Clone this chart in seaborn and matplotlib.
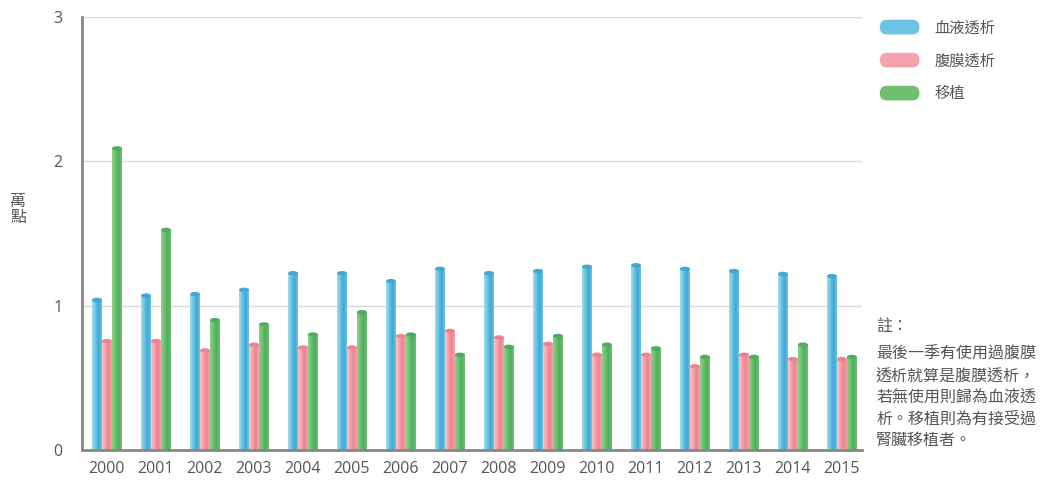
import numpy as np
import pandas as pd
import matplotlib
matplotlib.use("Agg")
import matplotlib.pyplot as plt
import seaborn as sns
from matplotlib.colors import LinearSegmentedColormap
from matplotlib.patches import Ellipse, FancyBboxPatch, Patch
from matplotlib.legend_handler import HandlerBase

# data (萬點)
years = [str(y) for y in range(2000, 2016)]
hemo = [1.04, 1.07, 1.08, 1.11, 1.225, 1.225, 1.17, 1.255, 1.225, 1.24, 1.27, 1.28, 1.255, 1.24, 1.22, 1.205]
peri = [0.755, 0.755, 0.69, 0.73, 0.71, 0.71, 0.79, 0.825, 0.78, 0.735, 0.66, 0.66, 0.58, 0.66, 0.63, 0.63]
trans = [2.09, 1.525, 0.90, 0.87, 0.80, 0.955, 0.80, 0.66, 0.715, 0.79, 0.73, 0.705, 0.645, 0.645, 0.73, 0.645]
series_names = ["血液透析", "腹膜透析", "移植"]

# light, mid, dark stops for the cylinder look
shades = {
    "血液透析": ("#a3dced", "#6cc4e3", "#3fa8d3"),
    "腹膜透析": ("#fbc6c6", "#f5a3ab", "#ee8293"),
    "移植": ("#8fd08a", "#6fc06f", "#4caf5f"),
}

df = pd.DataFrame({
    "year": years * 3,
    "value": hemo + peri + trans,
    "type": [n for n in series_names for _ in years],
})

sns.set_theme(style="white")
plt.rcParams["font.family"] = ["Open Sans", "Noto Sans CJK TC", "DejaVu Sans"]

fig = plt.figure(figsize=(10.44, 4.87), dpi=100)
ax = fig.add_axes([82 / 1044, 37 / 487, 780 / 1044, 433 / 487])

sns.barplot(data=df, x="year", y="value", hue="type", hue_order=series_names,
            palette=[shades[n][1] for n in series_names], width=0.61,
            legend=False, ax=ax, zorder=2)

# repaint each bar as a shaded cylinder
for cont, name in zip(ax.containers, series_names):
    light, mid, dark = shades[name]
    cmap = LinearSegmentedColormap.from_list(name, [light, mid, dark, mid])
    for bar in cont:
        x, w, h = bar.get_x(), bar.get_width(), bar.get_height()
        bar.set_facecolor("none")
        bar.set_edgecolor("none")
        ax.imshow(np.linspace(0, 1, 64)[None, :], extent=[x, x + w, 0, h],
                  aspect="auto", cmap=cmap, zorder=2, interpolation="bilinear")
        ax.add_patch(Ellipse((x + w / 2, h), w, 0.03, facecolor=dark,
                             edgecolor="none", zorder=3))

ax.set_xlim(-0.51, 15.41)
ax.set_ylim(0, 3)
ax.set_yticks([0, 1, 2, 3])
ax.set_yticklabels(["0", "1", "2", "3"])
ax.yaxis.grid(True, color="#d9d9d9", linewidth=1)
ax.set_axisbelow(True)
ax.set_xlabel("")
ax.set_ylabel("")
ax.tick_params(axis="both", length=0, labelsize=11.5, labelcolor="#555555")
ax.tick_params(axis="y", pad=14)
ax.tick_params(axis="x", pad=8)
for s in ["top", "right"]:
    ax.spines[s].set_visible(False)
for s in ["left", "bottom"]:
    ax.spines[s].set_color("#888888")
    ax.spines[s].set_linewidth(2)

fig.text(18 / 1044, 1 - 210 / 487, "萬\n點", ha="center", va="center",
         fontsize=11.5, color="#555555", linespacing=1.0)


class HandlerCylinder(HandlerBase):
    def create_artists(self, legend, orig_handle, xdescent, ydescent,
                       width, height, fontsize, trans):
        p = FancyBboxPatch((-xdescent, -ydescent), width, height,
                           boxstyle="round,pad=0,rounding_size=%f" % (height / 2),
                           facecolor=orig_handle.get_facecolor(),
                           edgecolor="none", transform=trans)
        return [p]


handles = [Patch(facecolor=shades[n][1], label=n) for n in series_names]
fig.legend(handles=handles, loc="upper left", bbox_to_anchor=(866 / 1044, 1 - 6 / 487),
           frameon=False, fontsize=11, labelcolor="#555555",
           handlelength=2.6, handleheight=1.1, handletextpad=1.0, labelspacing=1.08,
           handler_map={Patch: HandlerCylinder()})

fig.text(876 / 1044, 1 - 327 / 487, "註：", ha="left", va="center",
         fontsize=11.5, color="#555555")
note = "最後一季有使用過腹膜\n透析就算是腹膜透析，\n若無使用則歸為血液透\n析。移植則為有接受過\n腎臟移植者。"
fig.text(876 / 1044, 1 - 347 / 487, note, ha="left", va="top",
         fontsize=11.5, color="#555555", linespacing=1.45)

fig.savefig("out.png", dpi=100)
